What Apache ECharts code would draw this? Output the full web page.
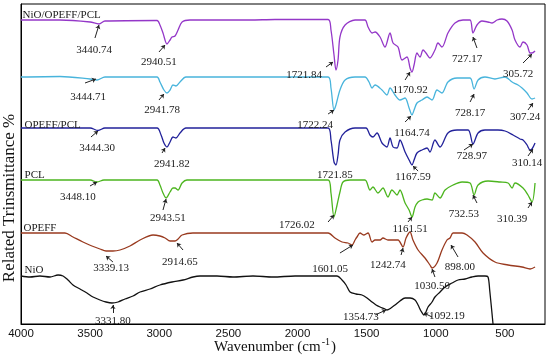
<!DOCTYPE html>
<html>
<head>
<meta charset="utf-8">
<script src="https://cdn.jsdelivr.net/npm/echarts@6/dist/echarts.min.js"></script>
<style>html,body{margin:0;padding:0;background:#fff}#c{width:550px;height:356px}</style>
</head>
<body>
<div id="c"></div>
<script>
// x tick labels (wavenumber, cm-1)
const xTicks = [4000, 3500, 3000, 2500, 2000, 1500, 1000, 500];
const seriesNames = ['NiO/OPEFF/PCL', 'NiO/PCL', 'OPEFF/PCL', 'PCL', 'OPEFF', 'NiO'];
const seriesColors = ['#9437c8', '#48b4dc', '#22229a', '#4cb51f', '#993a1f', '#111111'];

// [wavenumber, relative transmittance (stacked, arbitrary units)]
const nioOpeffPcl = [[4000,304],[3718,304],[3500,302],[3436,300],[3393,303],[3016,303.5],[2995,299],[2973,291],[2944,280],[2922,284],[2908,287],[2886,288],[2864,294],[2835,302],[2778,304],[2344,304],[2163,304.5],[1779,304.5],[1758,294],[1736,269],[1722,254],[1707,264],[1693,287],[1656,299],[1584,304],[1512,304],[1490,297],[1461,291],[1439,292],[1403,287],[1367,277],[1331,291],[1309,281],[1273,277],[1244,264],[1208,267],[1186,256],[1172,252],[1157,259],[1136,271],[1114,267],[1092,274],[1071,271],[1042,266],[1006,274],[984,281],[955,277],[912,291],[861,301],[803,304],[752,304],[731,291],[702,299],[666,303],[622,302],[593,301],[557,304],[521,305],[485,303],[448,294],[427,284],[391,277],[369,282],[340,279],[318,271],[304,271],[282,273]];
const nioPcl = [[4000,247],[3718,247.5],[3500,245],[3450,244],[3393,247],[3016,247],[2995,242],[2966,234],[2944,231],[2922,234],[2901,239],[2879,238],[2850,242],[2807,247],[2344,247],[1779,247],[1758,236],[1736,214],[1722,219],[1693,234],[1656,244],[1584,247],[1512,247],[1483,242],[1461,236],[1439,239],[1389,234],[1353,229],[1331,236],[1295,229],[1259,224],[1222,226],[1193,216],[1172,209],[1157,214],[1136,221],[1100,224],[1063,227],[1027,224],[991,234],[955,231],[912,242],[846,246],[752,246],[723,235],[694,244],[644,247],[572,245],[499,247],[448,242],[405,239],[376,236],[340,231],[304,225],[282,226]];
const opeffPcl = [[4000,196],[3500,196],[3443,193.5],[3393,196],[3016,196],[2987,189],[2966,181],[2944,177],[2922,182],[2901,187],[2879,186],[2850,191],[2807,196],[2344,196],[1779,196],[1758,184],[1736,162],[1722,159],[1707,169],[1693,184],[1656,192],[1584,196],[1505,196],[1476,189],[1454,187],[1425,191],[1389,181],[1353,177],[1331,186],[1309,177],[1280,176],[1259,184],[1222,172],[1193,164],[1172,159],[1157,164],[1136,171],[1100,174],[1063,176],[1042,172],[1006,184],[969,177],[912,191],[846,194],[766,194],[731,180],[694,191],[644,194],[550,194],[499,193],[441,189],[391,185],[369,184],[340,179],[318,174],[304,175],[282,181]];
const pcl = [[4000,144],[3500,144],[3450,142],[3400,144],[3016,144],[2995,139],[2973,131],[2951,126],[2922,132],[2901,136],[2886,136],[2864,134],[2835,141],[2800,144],[2344,144],[1779,144],[1758,131],[1736,107],[1714,119],[1693,132],[1671,142],[1620,144],[1512,144],[1476,134],[1454,137],[1418,131],[1382,136],[1346,127],[1317,134],[1280,129],[1259,134],[1222,121],[1193,114],[1172,107],[1150,117],[1128,122],[1100,124],[1063,125],[1027,124],[1006,131],[969,126],[933,134],[875,139],[810,142],[752,141],[723,129],[694,139],[622,143],[535,142],[477,141],[448,136],[427,141],[369,136],[333,129],[304,122],[282,141]];
const opeff = [[4000,91],[3682,91],[3624,87],[3552,82],[3487,78],[3429,75],[3385,73],[3335,73],[3284,74],[3212,78],[3139,84],[3045,89],[2995,88],[2958,86],[2922,83],[2886,83],[2864,85],[2835,89],[2756,91],[2344,91],[1779,91],[1729,86],[1678,82],[1635,81],[1606,79],[1584,84],[1570,87],[1548,91],[1519,89],[1490,91],[1461,82],[1439,84],[1403,84],[1382,86],[1346,84],[1309,84],[1273,84],[1237,77],[1215,86],[1186,92],[1165,84],[1128,74],[1078,66],[1042,59],[1027,56],[991,61],[955,74],[919,84],[897,86],[875,91],[810,91],[774,89],[716,82],[658,71],[572,62],[477,59],[376,57],[318,55],[282,57]];
const nio = [[4000,48],[3935,47],[3863,48],[3790,47],[3732,49],[3696,48],[3660,44],[3624,39],[3573,35],[3523,31],[3479,27],[3429,24],[3385,22],[3342,21],[3298,22],[3248,25],[3190,28],[3139,32],[3067,35],[2995,39],[2908,42],[2828,44],[2756,47],[2705,48],[2582,48],[2467,47],[2322,48],[2177,47],[2018,48],[1873,48],[1714,48],[1678,44],[1649,39],[1620,32],[1577,30],[1534,29],[1497,26],[1461,22],[1432,19],[1403,17],[1367,15],[1353,14],[1324,16],[1295,19],[1259,23],[1222,26],[1186,26],[1150,24],[1128,19],[1107,13],[1085,9],[1071,12],[1056,17],[1027,22],[1006,27],[969,32],[933,37],[882,41],[839,44],[788,45],[738,47],[694,48],[644,48],[622,47],[610,34],[586,0]];
const seriesData = [nioOpeffPcl, nioPcl, opeffPcl, pcl, opeff, nio];

// series name label anchor [wavenumber, value]
const nameAnchors = [[3993,309],[4014,250],[3978,199],[3978,149],[3986,96],[3978,54]];

// peak annotations: [series, text, textW, textV, fromW, fromV, tipW, tipV]
const peaks = [
  [0,'3440.74',3472,274,3465,286,3436,299],
  [0,'2940.51',3002,262,3002,272,2958,279],
  [0,'1721.84',1953,249,1794,257,1743,262],
  [0,'1170.92',1186,234,1222,244,1186,252],
  [0,'727.17',774,265,702,276,731,287],
  [0,'305.72',405,250,369,261,304,270],
  [1,'3444.71',3515,227,3537,241,3458,245],
  [1,'2941.78',2980,214,3002,224,2966,230],
  [1,'1722.24',1873,199,1779,210,1736,214],
  [1,'1164.74',1172,191,1222,202,1179,208],
  [1,'728.17',752,211,752,222,723,230],
  [1,'307.24',354,207,333,214,297,221],
  [2,'3444.30',3450,176,3494,187,3443,193],
  [2,'2941.82',2908,160,2980,171,2958,176],
  [2,'1721.85',1729,149,null,null,null,null],
  [2,'1167.59',1165,147,1128,153,1165,158],
  [2,'728.97',738,168,796,174,731,180],
  [2,'310.14',340,161,333,168,297,175],
  [3,'3448.10',3588,127,3501,138,3450,142],
  [3,'2943.51',2937,106,2973,114,2951,125],
  [3,'1726.02',2004,99,1779,102,1736,109],
  [3,'1161.51',1186,95,1201,102,1172,107],
  [3,'732.53',796,110,702,121,731,129],
  [3,'310.39',448,105,333,116,304,122],
  [4,'3339.13',3349,56,3335,62,3385,68],
  [4,'2914.65',2850,62,2828,74,2872,81],
  [4,'1601.05',1765,55,1693,71,1599,79],
  [4,'1242.74',1346,59,1251,69,1237,76],
  [4,'1030.50',1027,38,1006,47,1027,55],
  [4,'898.00',825,57,839,67,890,79],
  [5,'3331.80',3335,3,3335,11,3335,19],
  [5,'1354.73',1541,7,1439,9,1360,14],
  [5,'1092.19',919,8,1027,7,1085,11]
];

const serif = 'Liberation Serif';
const chart = echarts.init(document.getElementById('c'), null, {renderer: 'canvas'});

const series = seriesData.map((d, i) => {
  const mine = peaks.filter(p => p[0] === i);
  const mpData = mine.map(p => ({
    coord: [p[2], p[3]],
    label: {show: true, formatter: p[1], position: 'inside', color: '#1a1a1a', fontFamily: serif, fontSize: 11}
  }));
  mpData.push({
    coord: nameAnchors[i],
    label: {show: true, formatter: seriesNames[i], position: 'right', distance: 0, color: '#1a1a1a', fontFamily: serif, fontSize: 11}
  });
  const mlData = mine.filter(p => p[4] !== null).map(p => [
    {coord: [p[4], p[5]]},
    {coord: [p[6], p[7]]}
  ]);
  return {
    name: seriesNames[i],
    type: 'line',
    data: d,
    showSymbol: false,
    symbol: 'none',
    smooth: 0.3,
    lineStyle: {color: seriesColors[i], width: 1.3},
    itemStyle: {color: seriesColors[i]},
    markPoint: {
      silent: true,
      symbol: 'circle',
      symbolSize: 1,
      itemStyle: {color: 'rgba(0,0,0,0)'},
      data: mpData,
      animation: false
    },
    markLine: {
      silent: true,
      symbol: ['none', 'arrow'],
      symbolSize: 4,
      lineStyle: {color: '#222', width: 1, type: 'solid'},
      label: {show: false},
      data: mlData,
      animation: false
    }
  };
});

chart.setOption({
  animation: false,
  backgroundColor: '#fff',
  grid: {left: 21, right: 5, top: 4, bottom: 32, show: true, borderColor: '#000', borderWidth: 1, backgroundColor: 'rgba(0,0,0,0)', containLabel: false, outerBoundsMode: 'none'},
  xAxis: {
    type: 'value', min: 210, max: 4000, inverse: true,
    axisLine: {show: true, lineStyle: {color: '#000', width: 1}},
    axisTick: {show: false},
    splitLine: {show: false},
    axisLabel: {customValues: xTicks, formatter: v => String(v), color: '#111', fontFamily: 'Liberation Sans', fontSize: 11.5, margin: 4},
    name: '{n|Wavenumber (cm}{s|-1}{n|)}',
    nameLocation: 'middle',
    nameGap: 13,
    nameMoveOverlap: false,
    nameTextStyle: {
      padding: [0, 16, 0, 0],
      rich: {
        n: {fontFamily: serif, fontSize: 15, color: '#111'},
        s: {fontFamily: serif, fontSize: 10, color: '#111', padding: [0, 1, 10, 1]}
      }
    }
  },
  yAxis: {
    type: 'value', min: 0, max: 320,
    axisLine: {show: true, lineStyle: {color: '#000', width: 1}},
    axisTick: {show: false},
    axisLabel: {show: false},
    splitLine: {show: false},
    name: 'Related Trinsmittance %',
    nameLocation: 'middle',
    nameGap: 3,
    nameMoveOverlap: false,
    nameTextStyle: {fontFamily: serif, fontSize: 17, color: '#111', padding: [0, 68, 0, 0]}
  },
  series: series
});
</script>
</body>
</html>
